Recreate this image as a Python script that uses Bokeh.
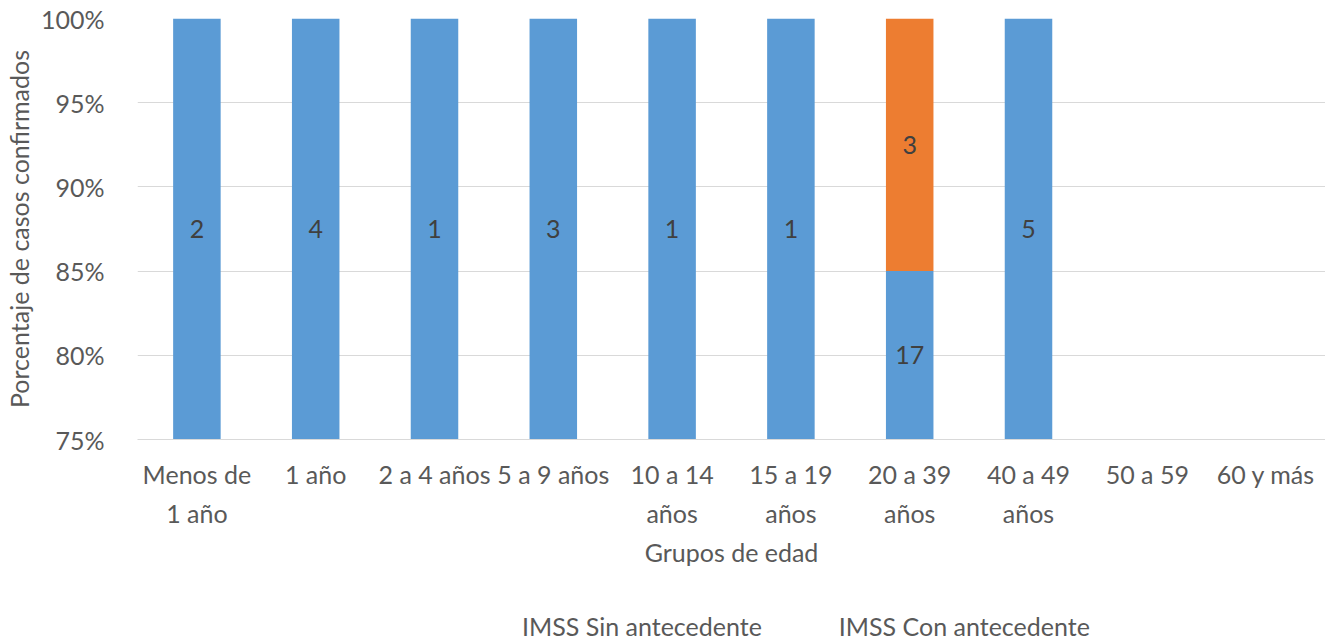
from bokeh.plotting import figure
from bokeh.layouts import column
from bokeh.models import (Range1d, ColumnDataSource, Legend, LegendItem,
                          NumeralTickFormatter, FixedTicker, LabelSet, LinearAxis)
from bokeh.core.properties import value
from bokeh.embed import file_html
from bokeh.resources import INLINE

categories = ["Menos de 1 año", "1 año", "2 a 4 años", "5 a 9 años", "10 a 14 años",
              "15 a 19 años", "20 a 39 años", "40 a 49 años", "50 a 59", "60 y más"]
tick_line1 = ["Menos de", "1 año", "2 a 4 años", "5 a 9 años", "10 a 14",
              "15 a 19", "20 a 39", "40 a 49", "50 a 59", "60 y más"]
tick_line2 = ["1 año", " ", " ", " ", "años", "años", "años", "años", " ", " "]
sin_antecedente = [2, 4, 1, 3, 1, 1, 17, 5, 0, 0]
con_antecedente = [0, 0, 0, 0, 0, 0, 3, 0, 0, 0]
series_names = ["IMSS Sin antecedente", "IMSS Con antecedente"]
colors = ["#5b9bd5", "#ed7d31"]

FONT = "Lato"
FS = "25px"
TXT = "#595959"
YMIN, YMAX = 0.75, 1.0
FRAME_W, FRAME_H = 1188, 421

n = len(categories)
xpos = list(range(n))
tot = [a + b for a, b in zip(sin_antecedente, con_antecedente)]
p_sin = [a / t if t else 0 for a, t in zip(sin_antecedente, tot)]
p_con = [b / t if t else 0 for b, t in zip(con_antecedente, tot)]

src = ColumnDataSource(dict(x=xpos, cat=categories, sin=p_sin, con=p_con))

p = figure(x_range=Range1d(-0.5, n - 0.5), y_range=Range1d(YMIN, YMAX),
           frame_width=FRAME_W, frame_height=FRAME_H, output_backend="svg", toolbar_location=None,
           min_border_left=126, min_border_right=0, min_border_top=18, min_border_bottom=146)
p.outline_line_color = None

r = p.vbar_stack(["sin", "con"], x="x", width=0.4, source=src, color=colors, line_color=None)

# data labels, centred in the visible part of each segment
lx, ly, lt = [], [], []
for i, a, b, pa, pb in zip(xpos, sin_antecedente, con_antecedente, p_sin, p_con):
    bottom = 0.0
    for cnt, pv in ((a, pa), (b, pb)):
        top = bottom + pv
        if cnt > 0:
            lo, hi = max(bottom, YMIN), min(top, YMAX)
            if hi > lo:
                lx.append(i); ly.append((lo + hi) / 2); lt.append(str(cnt))
        bottom = top
p.add_layout(LabelSet(x="x", y="y", text="t", source=ColumnDataSource(dict(x=lx, y=ly, t=lt)),
                      text_align="center", text_baseline="middle",
                      text_font=value(FONT), text_font_size=FS, text_color="#404040"))

# axes
p.yaxis.ticker = FixedTicker(ticks=[0.75, 0.80, 0.85, 0.90, 0.95, 1.0])
p.yaxis.formatter = NumeralTickFormatter(format="0%")
p.yaxis.axis_line_color = None
p.yaxis.major_label_standoff = 27
p.yaxis.axis_label = "Porcentaje de casos confirmados"
p.yaxis.axis_label_standoff = 4

xa1 = p.xaxis[0]
xa1.ticker = FixedTicker(ticks=xpos)
xa1.axis_line_color = "#d9d9d9"
xa1.major_label_overrides = {i: t for i, t in zip(xpos, tick_line1)}
xa1.major_label_standoff = 13

xa2 = LinearAxis(axis_line_color=None, ticker=FixedTicker(ticks=xpos))
xa2.major_label_overrides = {i: t for i, t in zip(xpos, tick_line2)}
xa2.major_label_standoff = 0
xa2.axis_label = "Grupos de edad"
xa2.axis_label_standoff = 6
p.add_layout(xa2, "below")

for ax in (xa1, xa2, p.yaxis[0]):
    ax.major_tick_line_color = None
    ax.minor_tick_line_color = None
    ax.major_label_text_font = FONT
    ax.major_label_text_font_size = FS
    ax.major_label_text_color = TXT
    ax.axis_label_text_font = FONT
    ax.axis_label_text_font_size = FS
    ax.axis_label_text_color = TXT
    ax.axis_label_text_font_style = "normal"

p.xgrid.grid_line_color = None
p.ygrid.grid_line_color = "#d9d9d9"

# legend strip below the chart
pl = figure(width=1314, height=56, x_range=Range1d(0, 1), y_range=Range1d(0, 1),
            x_axis_type=None, y_axis_type=None, output_backend="svg", toolbar_location=None,
            min_border_left=0, min_border_right=0, min_border_top=0, min_border_bottom=0)
pl.outline_line_color = None
pl.xgrid.grid_line_color = None
pl.ygrid.grid_line_color = None
swatches = [pl.vbar(x=[], top=[], width=0.1, color=colors[i], line_color=None) for i in range(2)]

legend = Legend(items=[LegendItem(label=series_names[i], renderers=[swatches[i]]) for i in range(2)],
                orientation="horizontal", location=(363, 0),
                label_text_font=FONT, label_text_font_size=FS, label_text_color=TXT,
                glyph_width=16, glyph_height=16, spacing=55, border_line_color=None,
                background_fill_alpha=0, margin=0, padding=0, label_standoff=6)
pl.add_layout(legend)

layout = column(p, pl, spacing=0)
open("out.html", "w").write(file_html(layout, INLINE))
